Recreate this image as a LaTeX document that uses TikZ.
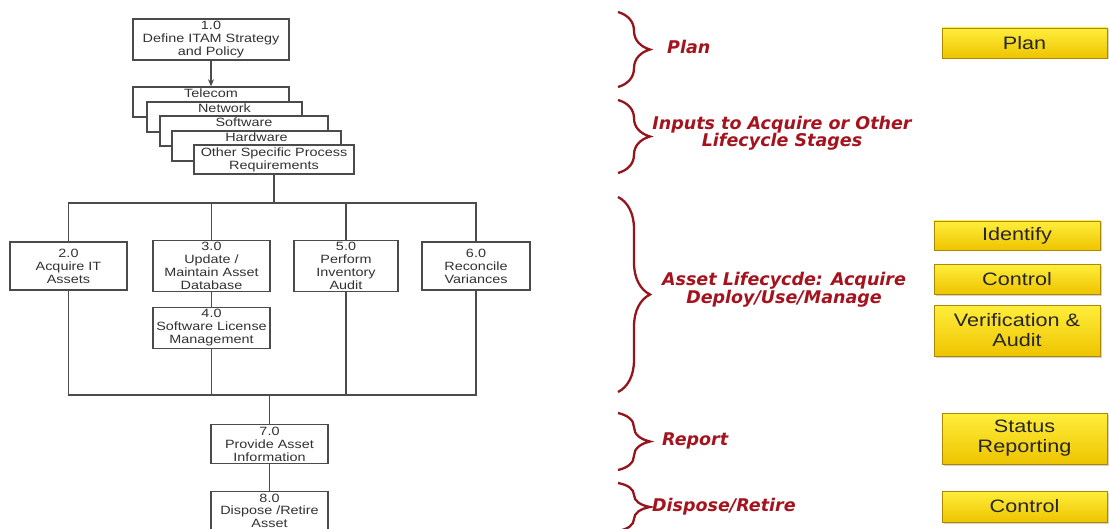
\documentclass[tikz,border=0pt]{standalone}
\usepackage{fontspec}
\setmainfont{Liberation Sans}
\newfontfamily\boxfont[FakeStretch=1.2]{Liberation Sans}
\newfontfamily\redfont{DejaVu Sans}
\usetikzlibrary{decorations.pathreplacing,shadows,arrows.meta}

\definecolor{boxgray}{RGB}{75,75,75}
\definecolor{textgray}{RGB}{50,50,50}
\definecolor{labelred}{RGB}{165,20,30}
\definecolor{bracered}{RGB}{150,20,28}
\definecolor{btntop}{RGB}{255,238,60}
\definecolor{btnbottom}{RGB}{238,196,0}
\definecolor{btnedge}{RGB}{175,135,0}

\begin{document}
\begin{tikzpicture}
  [x=1pt,y=-1pt,
   proc/.style={draw=boxgray,fill=white,line width=1.4pt,text=textgray,
     align=center,inner sep=2pt,font=\boxfont\fontsize{12}{13}\selectfont},
   stack/.style={proc,text height=9pt,text depth=17pt,inner ysep=2pt,minimum height=0pt},
   conn/.style={draw=boxgray,line width=1.4pt}]

  \tikzstyle{lbl} = [text=labelred,align=center,inner sep=0pt,
     font=\redfont\bfseries\itshape\fontsize{17.5}{17}\selectfont]
  \tikzstyle{brc} = [draw=bracered,line width=2.3pt,decorate,
     decoration={brace,amplitude=32pt}]
  \tikzstyle{btn} = [draw=btnedge,line width=0.6pt,top color=btntop,bottom color=btnbottom,
     drop shadow={shadow xshift=1.5pt,shadow yshift=-1.5pt,fill=black!35},
     align=center,inner sep=0pt,text=black!85,
     font=\boxfont\fontsize{18}{20}\selectfont]

  \fill[white] (0,0) rectangle (1110,529);
  \useasboundingbox (0,0) rectangle (1110,529);

  \node[proc, minimum width=156pt, minimum height=39pt] (def) at (211,39.5)
    {1.0\\Define ITAM Strategy\\and Policy};

  \node[stack, minimum width=156pt] (tel) at (211,102)   {Telecom};
  \node[stack, minimum width=155pt] (net) at (224.5,117) {Network};
  \node[stack, minimum width=168pt] (sw)  at (244,131)   {Software};
  \node[stack, minimum width=169pt] (hw)  at (256.5,146) {Hardware};
  \node[proc, minimum width=160pt, minimum height=29pt] (oth) at (274,159.5)
    {Other Specific Process\\Requirements};

  \node[proc, minimum width=117pt, minimum height=48pt] (acq)  at (68.5,266)  {2.0\\Acquire IT\\Assets};
  \node[proc, minimum width=117pt, minimum height=48pt] (upd)  at (211.5,266) {3.0\\Update /\\Maintain Asset\\Database};
  \node[proc, minimum width=117pt, minimum height=38pt] (lic)  at (211.5,328) {4.0\\Software License\\Management};
  \node[proc, minimum width=104pt, minimum height=48pt] (aud)  at (346,266)   {5.0\\Perform\\Inventory\\Audit};
  \node[proc, minimum width=108pt, minimum height=48pt] (rec)  at (476,266)   {6.0\\Reconcile\\Variances};
  \node[proc, minimum width=117pt, minimum height=38pt] (prov) at (269.5,444) {7.0\\Provide Asset\\Information};
  \node[proc, minimum width=117pt, minimum height=38pt,
        font=\boxfont\fontsize{12}{12.5}\selectfont] (disp) at (269.5,510.5) {8.0\\Dispose /Retire\\Asset};

  \coordinate (split) at (274,203);
  \coordinate (join)  at (269.5,395);

  \path[->, >={Stealth[length=7pt,width=6pt]}, conn] (def) edge (tel);
  \draw[conn] (oth) -- (split);
  \draw[conn] (acq.north) -- (acq.north |- split) -- (rec.north |- split) -- (rec.north);
  \draw[conn] (upd.north) -- (upd.north |- split);
  \draw[conn] (aud.north) -- (aud.north |- split);
  \draw[conn] (upd) -- (lic);
  \draw[conn] (acq.south) -- (acq.south |- join) -- (rec.south |- join) -- (rec.south);
  \draw[conn] (lic) -- (lic.south |- join);
  \draw[conn] (aud) -- (aud.south |- join);
  \draw[conn] (join) -- (prov);
  \draw[conn] (prov) -- (disp);

  \draw[brc] (618,12)  -- (618,87);
  \draw[brc] (618,100) -- (618,173);
  \draw[brc] (618,197) -- (618,392);
  \draw[brc] (618,413) -- (618,470);
  \draw[brc] (618,483) -- (618,531);

  \node[lbl, anchor=west] (planlbl) at (667,47)    {Plan};
  \node[lbl]              (inlbl)   at (782,133)   {Inputs to Acquire or Other\\Lifecycle Stages};
  \node[lbl]              (lifelbl) at (784,289.5) {Asset Lifecycde: Acquire\\Deploy/Use/Manage};
  \node[lbl, anchor=west] (replbl)  at (662,441)   {Report};
  \node[lbl, anchor=west] (displbl) at (652,507)   {Dispose/Retire};

  \node[btn, minimum width=165pt, minimum height=30pt] (plan)   at (1024.5,43)    {Plan};
  \node[btn, minimum width=166pt, minimum height=29pt] (ident)  at (1017,235.5)   {Identify};
  \node[btn, minimum width=166pt, minimum height=30pt] (ctrl)   at (1017,279)     {Control};
  \node[btn, minimum width=166pt, minimum height=51pt] (verif)  at (1017,330.5)   {Verification \&\\Audit};
  \node[btn, minimum width=165pt, minimum height=51pt] (status) at (1024.5,438.5) {Status\\Reporting};
  \node[btn, minimum width=165pt, minimum height=31pt] (ctrlb)  at (1024.5,506.5) {Control};
\end{tikzpicture}
\end{document}
